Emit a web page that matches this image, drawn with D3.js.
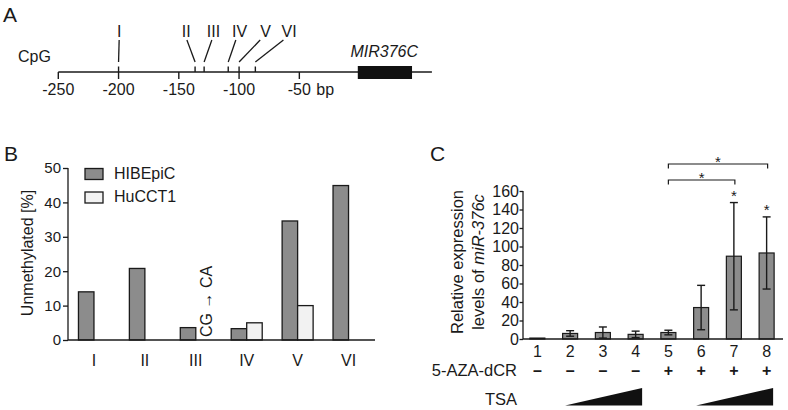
<!DOCTYPE html>
<html>
<head>
<meta charset="utf-8">
<script src="https://cdn.jsdelivr.net/npm/d3@7"></script>
<style>
  body { margin: 0; background: #fff; }
  svg { display: block; font-family: "Liberation Sans", Arial, sans-serif; }
</style>
</head>
<body>
<svg id="fig" width="788" height="410"></svg>
<script>
// ---- panel A : CpG map ----
const cpgSites = ['I', 'II', 'III', 'IV', 'V', 'VI'];
const cpgPos = [-200, -136.5, -129, -109, -100, -86.5];          // bp
const cpgLeadTop = [-199.5, -143.3, -122.6, -102.7, -82.5, -63.2]; // bp, top of leader line
const cpgLabelPos = [-199.4, -143.9, -121.2, -99.5, -78.1, -58.5]; // bp, label centre
const bpTicks = [-250, -200, -150, -100, -50];
const geneSpan = [-1.5, 43.5];

// ---- panel B : methylation ----
const groups = ['HIBEpiC', 'HuCCT1'];
const hibepic = [14, 20.8, 3.6, 3.3, 34.6, 44.9];
const hucct1 = [null, null, null, 5.0, 10.0, null];

// ---- panel C : expression ----
const lanes = ['1', '2', '3', '4', '5', '6', '7', '8'];
const expr = [1, 6, 7, 5, 7, 34, 89.5, 93];
const exprErr = [0, 3, 6, 3.5, 2.5, 24, 58, 39];
const aza = ['–', '–', '–', '–', '+', '+', '+', '+'];
const starred = ['7', '8'];
const brackets = [['5', '7'], ['5', '8']];
const tsaRamps = [['2', '4'], ['6', '8']];

const ink = '#1a1a1a';
const svg = d3.select('#fig');
svg.append('rect').attr('width', 788).attr('height', 410).attr('fill', '#fff');

function panelLetter(t, x, y) {
  svg.append('text').attr('x', x).attr('y', y).attr('font-size', 21).attr('fill', ink).text(t);
}

/* ================= A ================= */
panelLetter('A', 3, 22);
const xa = d3.scaleLinear().domain([-250, 0]).range([58.3, 359.6]);
const gA = svg.append('g');
const axisY = 72;

gA.append('line').attr('x1', xa(-250)).attr('x2', xa(60)).attr('y1', axisY).attr('y2', axisY)
  .attr('stroke', ink).attr('stroke-width', 1.4);

gA.selectAll('.bt').data(bpTicks).join('line')
  .attr('x1', d => xa(d)).attr('x2', d => xa(d)).attr('y1', axisY).attr('y2', axisY + 7)
  .attr('stroke', ink).attr('stroke-width', 1.4);
gA.selectAll('.bl').data(bpTicks).join('text')
  .attr('x', d => xa(d)).attr('y', 95).attr('text-anchor', 'middle')
  .attr('font-size', 16).attr('fill', ink).text(d => d);
gA.append('text').attr('x', xa(-50) + 17).attr('y', 95).attr('font-size', 16).attr('fill', ink).text('bp');

gA.append('rect').attr('x', xa(geneSpan[0])).attr('y', 66)
  .attr('width', xa(geneSpan[1]) - xa(geneSpan[0])).attr('height', 13).attr('fill', '#111');
gA.append('text').attr('x', xa(geneSpan[1]) + 6).attr('y', 57).attr('text-anchor', 'end')
  .attr('font-size', 16).attr('font-style', 'italic').attr('fill', ink).text('MIR376C');

gA.append('text').attr('x', 18).attr('y', 62).attr('font-size', 16).attr('fill', ink).text('CpG');

// site ticks
gA.selectAll('.st').data(cpgPos).join('line')
  .attr('x1', d => xa(d)).attr('x2', d => xa(d)).attr('y1', axisY - 5.5).attr('y2', axisY)
  .attr('stroke', ink).attr('stroke-width', 1.4);
// leader lines
gA.selectAll('.ld').data(cpgPos).join('line')
  .attr('x1', d => xa(d)).attr('y1', 62)
  .attr('x2', (d, i) => xa(cpgLeadTop[i])).attr('y2', 40)
  .attr('stroke', ink).attr('stroke-width', 1.3);
gA.selectAll('.sl').data(cpgSites).join('text')
  .attr('x', (d, i) => xa(cpgLabelPos[i])).attr('y', 37).attr('text-anchor', 'middle')
  .attr('font-size', 16).attr('fill', ink).text(d => d);

/* ================= B ================= */
panelLetter('B', 4, 161);
const xb = d3.scaleBand().domain(cpgSites).range([68.5, 374]);
const yb = d3.scaleLinear().domain([0, 50]).range([340, 168]);
const half = 15.5;
const sub = d3.scaleBand().domain(groups)
  .range([xb.bandwidth() / 2 - half, xb.bandwidth() / 2 + half]);
const fillB = { HIBEpiC: '#8c8c8c', HuCCT1: '#f2f2f2' };
const gB = svg.append('g');

const barsB = [];
cpgSites.forEach((s, i) => {
  if (hibepic[i] != null) barsB.push({ site: s, grp: 'HIBEpiC', v: hibepic[i] });
  if (hucct1[i] != null) barsB.push({ site: s, grp: 'HuCCT1', v: hucct1[i] });
});
gB.selectAll('rect.bar').data(barsB).join('rect').attr('class', 'bar')
  .attr('x', d => xb(d.site) + sub(d.grp)).attr('width', sub.bandwidth())
  .attr('y', d => yb(d.v)).attr('height', d => yb(0) - yb(d.v))
  .attr('fill', d => fillB[d.grp]).attr('stroke', ink).attr('stroke-width', 1.3);

const axB = gB.append('g').attr('transform', 'translate(68,0)')
  .call(d3.axisLeft(yb).tickValues([0, 10, 20, 30, 40, 50]).tickSize(5).tickPadding(2));
axB.select('.domain').attr('stroke', ink).attr('stroke-width', 1.3).attr('d', `M0,${yb(50)}V${yb(0)}`);
axB.selectAll('line').attr('stroke', ink).attr('stroke-width', 1.3);
axB.selectAll('text').attr('font-size', 15).attr('fill', ink).attr('font-family', null);

gB.append('line').attr('x1', 68).attr('x2', 375).attr('y1', yb(0)).attr('y2', yb(0))
  .attr('stroke', ink).attr('stroke-width', 1.3);

gB.selectAll('.xl').data(cpgSites).join('text')
  .attr('x', d => xb(d) + xb.bandwidth() / 2).attr('y', 366).attr('text-anchor', 'middle')
  .attr('font-size', 16).attr('fill', ink).text(d => d);

gB.append('text').attr('transform', `translate(33,${(yb(0) + yb(50)) / 2 - 1}) rotate(-90)`)
  .attr('text-anchor', 'middle').attr('font-size', 16).attr('fill', ink).text('Unmethylated [%]');

const cg = gB.append('text')
  .attr('transform', `translate(${xb('III') + xb.bandwidth() / 2 + 16},${yb(0) - 3}) rotate(-90)`)
  .attr('font-size', 16).attr('fill', ink);
cg.append('tspan').text('CG ');
cg.append('tspan').attr('font-weight', 'bold').text('\u2192');
cg.append('tspan').text(' CA');

const leg = gB.selectAll('.leg').data(groups).join('g')
  .attr('transform', (d, i) => `translate(85,${168.5 + i * 23.5})`);
leg.append('rect').attr('width', 18).attr('height', 11)
  .attr('fill', d => fillB[d]).attr('stroke', ink).attr('stroke-width', 1.3);
leg.append('text').attr('x', 29).attr('y', 10).attr('font-size', 16).attr('fill', ink).text(d => d);

/* ================= C ================= */
panelLetter('C', 430, 161);
const xc = d3.scaleBand().domain(lanes).range([521, 783]);
const yc = d3.scaleLinear().domain([0, 160]).range([339, 191]);
const bw = 15;
const cx = d => xc(d) + xc.bandwidth() / 2;
const gC = svg.append('g');

const dataC = lanes.map((l, i) => ({ lane: l, v: expr[i], e: exprErr[i] }));
gC.selectAll('rect.bar').data(dataC).join('rect').attr('class', 'bar')
  .attr('x', d => cx(d.lane) - bw / 2).attr('width', bw)
  .attr('y', d => yc(d.v)).attr('height', d => yc(0) - yc(d.v))
  .attr('fill', '#8c8c8c').attr('stroke', ink).attr('stroke-width', 1.2);

const errs = gC.selectAll('g.err').data(dataC.filter(d => d.e > 0)).join('g').attr('class', 'err');
errs.append('line').attr('x1', d => cx(d.lane)).attr('x2', d => cx(d.lane))
  .attr('y1', d => yc(d.v - d.e)).attr('y2', d => yc(d.v + d.e));
errs.append('line').attr('x1', d => cx(d.lane) - 4).attr('x2', d => cx(d.lane) + 4)
  .attr('y1', d => yc(d.v + d.e)).attr('y2', d => yc(d.v + d.e));
errs.append('line').attr('x1', d => cx(d.lane) - 4).attr('x2', d => cx(d.lane) + 4)
  .attr('y1', d => yc(d.v - d.e)).attr('y2', d => yc(d.v - d.e));
errs.selectAll('line').attr('stroke', ink).attr('stroke-width', 1.4);

const axC = gC.append('g').attr('transform', 'translate(523,0)')
  .call(d3.axisLeft(yc).ticks(8).tickSize(3.5).tickPadding(0.5));
axC.select('.domain').attr('stroke', ink).attr('stroke-width', 1.3).attr('d', `M0,${yc(160)}V${yc(0)}`);
axC.selectAll('line').attr('stroke', ink).attr('stroke-width', 1.3);
axC.selectAll('text').attr('font-size', 16).attr('fill', ink).attr('font-family', null);

gC.append('line').attr('x1', 523).attr('x2', 783).attr('y1', yc(0)).attr('y2', yc(0))
  .attr('stroke', ink).attr('stroke-width', 1.3);

gC.selectAll('.xl').data(lanes).join('text')
  .attr('x', d => cx(d)).attr('y', 357).attr('text-anchor', 'middle')
  .attr('font-size', 16).attr('fill', ink).text(d => d);

gC.append('text').attr('x', 517).attr('y', 376).attr('text-anchor', 'end')
  .attr('font-size', 16.5).attr('fill', ink).text('5-AZA-dCR');
gC.selectAll('.az').data(lanes).join('text')
  .attr('x', d => cx(d)).attr('y', 376).attr('text-anchor', 'middle')
  .attr('font-size', 16).attr('font-weight', 'bold').attr('fill', ink).text((d, i) => aza[i]);

gC.append('text').attr('x', 517).attr('y', 405).attr('text-anchor', 'end')
  .attr('font-size', 16.5).attr('fill', ink).text('TSA');
gC.selectAll('.tsa').data(tsaRamps).join('path')
  .attr('d', d => {
    const x0 = cx(d[0]) - 5, x1 = cx(d[1]) + 6.5;
    return `M${x0},405.5L${x1},388L${x1},405.5Z`;
  })
  .attr('fill', '#111');

// y label
const ylab = gC.append('text').attr('transform', `translate(0,262) rotate(-90)`)
  .attr('text-anchor', 'middle').attr('font-size', 16.5).attr('fill', ink);
ylab.append('tspan').attr('x', 0).attr('y', 463).text('Relative expression');
const l2 = ylab.append('tspan').attr('x', 0).attr('y', 484);
l2.append('tspan').text('levels of ');
l2.append('tspan').attr('font-style', 'italic').text('miR-376c');

// stars over bars
gC.selectAll('.star').data(dataC.filter(d => starred.includes(d.lane))).join('text')
  .attr('x', d => cx(d.lane)).attr('y', d => yc(d.v + d.e) - 2).attr('text-anchor', 'middle')
  .attr('font-size', 15).attr('fill', ink).text('*');

// comparison brackets
const brY = [180, 164];
brackets.forEach((b, i) => {
  const x0 = cx(b[0]), x1 = cx(b[1]) + 1, y = brY[i];
  gC.append('path').attr('d', `M${x0},${y + 4.5}V${y}H${x1}V${y + 4.5}`)
    .attr('fill', 'none').attr('stroke', ink).attr('stroke-width', 1.2);
  gC.append('text').attr('x', (x0 + x1) / 2).attr('y', y + 2.5).attr('text-anchor', 'middle')
    .attr('font-size', 15).attr('fill', ink).text('*');
});
</script>
</body>
</html>
